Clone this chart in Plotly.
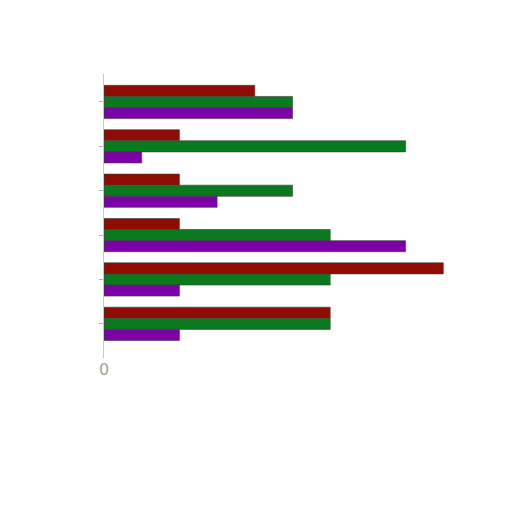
import plotly.graph_objects as go

# categories top to bottom
categories = ["A", "B", "C", "D", "E", "F"]
red_vals = [4, 2, 2, 2, 9, 6]
green_vals = [5, 8, 5, 6, 6, 6]
purple_vals = [5, 1, 3, 8, 2, 2]
x_ticks = [0]

fig = go.Figure()

# red on top within each group when the y axis is reversed
series = [
    ("Red", red_vals, "#8e0c02"),
    ("Green", green_vals, "#0b7a1e"),
    ("Purple", purple_vals, "#7a02a6"),
]
for name, vals, col in series:
    fig.add_trace(go.Bar(
        y=categories, x=vals,
        orientation="h",
        name=name,
        marker=dict(color=col, line=dict(color="rgba(60,60,60,0.6)", width=1)),
        hoverinfo="x+name"
    ))

# page body adds ~7px offset, so margins are shifted to compensate
fig.update_layout(
    width=512, height=512,
    barmode="group",
    bargap=0.25,
    bargroupgap=0,
    showlegend=False,
    plot_bgcolor="white",
    paper_bgcolor="white",
    margin=dict(l=96, r=39, t=66, b=162),
    xaxis=dict(
        range=[0, 10],
        tickvals=x_ticks,
        ticktext=["0"],
        showgrid=False,
        zeroline=False,
        showline=False,
        tickfont=dict(family="DejaVu Sans", size=16, color="#a0a0a0"),
    ),
    yaxis=dict(
        autorange=False,
        range=[5.77, -0.63],
        showticklabels=False,
        showgrid=False,
        zeroline=False,
        showline=True,
        linecolor="#c8c8c8",
        linewidth=1,
        ticks="outside",
        ticklen=4,
        tickcolor="#b0b0b0",
    ),
)

fig.write_html("out.html")
